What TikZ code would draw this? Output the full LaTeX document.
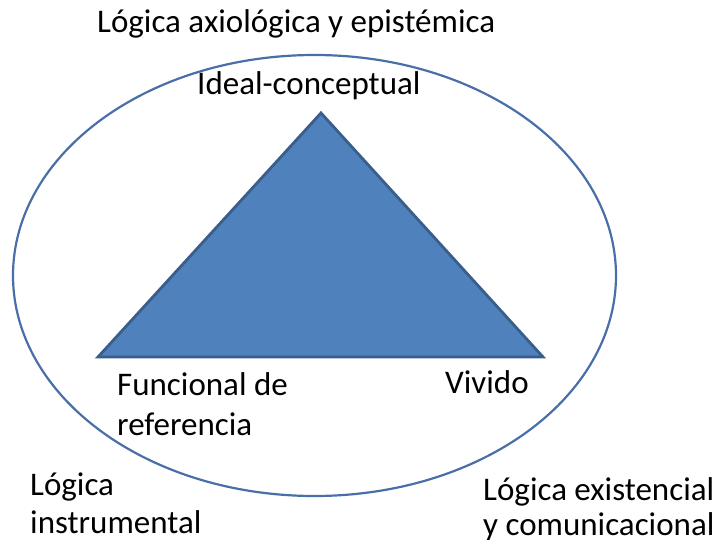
\documentclass[tikz,border=0pt]{standalone}
\usepackage{fontspec}
\setmainfont{Carlito}
\definecolor{triFill}{HTML}{4F81BD}
\definecolor{triEdge}{HTML}{3A5E8C}
\definecolor{ellEdge}{HTML}{4A6FA8}
\begin{document}
\begin{tikzpicture}[x=1pt,y=-1pt,
  lbl/.style={font=\fontsize{33}{39}\selectfont, inner sep=0pt, anchor=base west, text=black}]
\useasboundingbox (0,0) rectangle (717,540);
\coordinate (c) at (314.5,275.5);
\draw[ellEdge, line width=2.2pt] (c) ellipse [x radius=301.5pt, y radius=220.5pt];
\coordinate (apex) at (321,113);
\coordinate (bl) at (98,357);
\coordinate (br) at (543,357);
\draw[triEdge, fill=triFill, line width=2.8pt, line join=miter] (apex) -- (bl) -- (br) -- cycle;
\node[lbl] (top) at (97,33) {Lógica axiológica y epistémica};
\node[lbl] (ideal) at (197,95) {Ideal-conceptual};
\node[lbl] (func1) at (117,395) {Funcional de};
\node[lbl] (func2) at (117,435) {referencia};
\node[lbl] (viv) at (445,393) {Vivido};
\node[lbl] (li1) at (30,495) {Lógica};
\node[lbl] (li2) at (30,533) {instrumental};
\node[lbl] (le1) at (483,500) {Lógica existencial};
\node[lbl] (le2) at (483,535) {y comunicacional};
\end{tikzpicture}
\end{document}
